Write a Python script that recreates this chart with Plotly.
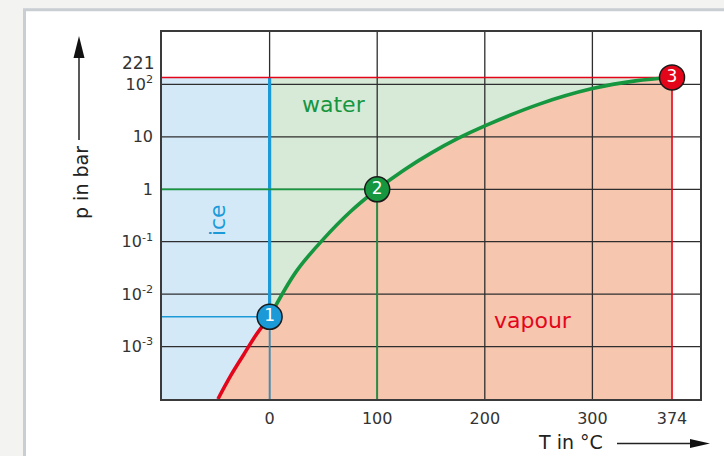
import plotly.graph_objects as go

# ---- data ----
T_sub = [-48, -36, -24, -12, 0]                          # sublimation curve (°C)
p_sub = [1e-4, 2.82e-4, 7.08e-4, 1.74e-3, 0.0037]        # bar
T_vap = [0, 25, 50, 75, 100, 125, 150, 175, 200, 250, 300, 340, 374]   # vapour-pressure curve
p_vap = [0.0037, 0.0275, 0.112, 0.372, 1, 2.34, 4.9, 9.33, 16.2, 41.7, 83.2, 117, 136]
pt_T = [0, 100, 374]            # marked points 1, 2, 3
pt_p = [0.0037, 1, 136]
pt_lbl = ["1", "2", "3"]
x_ticks = [0, 100, 200, 300, 374]
x_ticktext = ["0", "100", "200", "300", "374"]
y_ticks = [1e-3, 1e-2, 1e-1, 1, 10, 100]
y_ticktext = ["10<sup>-3</sup>", "10<sup>-2</sup>", "10<sup>-1</sup>", "1", "10", "10<sup>2</sup>"]
crit_label = "221"
x_grid = [0, 100, 200, 300]
y_grid = [1e-3, 1e-2, 1e-1, 1, 10, 100]
x_range = [-100, 400]
y_range_log = [-4, 3]

# ---- styles ----
C_BLUE, C_GREEN, C_RED = "#1c9ad8", "#15963f", "#e3061b"
F_ICE, F_WATER, F_VAP = "#d4e9f8", "#d7e9d7", "#f7c6af"
GRID = "#2e2e2e"
FONT = "DejaVu Sans"

p_min, p_max = 10 ** y_range_log[0], 10 ** y_range_log[1]
pT, pP = pt_T, pt_p
xmin, xmax = x_range

fig = go.Figure()

def poly(xs, ys, color):
    fig.add_trace(go.Scatter(x=xs, y=ys, fill="toself", fillcolor=color, mode="lines",
                             line=dict(width=0), hoverinfo="skip", showlegend=False))

# vapour region
poly([T_sub[0]] + T_sub + T_vap[1:] + [pT[2], T_sub[0]],
     [p_min] + p_sub + p_vap[1:] + [p_min, p_min], F_VAP)
# water region
poly([pT[0], pT[0]] + [pT[2]] + T_vap[::-1],
     [pP[0], pP[2]] + [pP[2]] + p_vap[::-1], F_WATER)
# ice region
poly([xmin, xmin, pT[0], pT[0]] + T_sub[::-1][1:] + [xmin],
     [p_min, pP[2], pP[2], pP[0]] + p_sub[::-1][1:] + [p_min], F_ICE)

# grid lines drawn above the fills
gx, gy = [], []
for v in x_grid:
    gx += [v, v, None]; gy += [p_min, p_max, None]
for v in y_grid:
    gx += [xmin, xmax, None]; gy += [v, v, None]
fig.add_trace(go.Scatter(x=gx, y=gy, mode="lines", line=dict(color=GRID, width=1.3),
                         hoverinfo="skip", showlegend=False))

def seg(xs, ys, color, w):
    fig.add_trace(go.Scatter(x=xs, y=ys, mode="lines", line=dict(color=color, width=w),
                             hoverinfo="skip", showlegend=False))

seg([xmin, pT[0]], [pP[0], pP[0]], C_BLUE, 1.6)
seg([pT[0], pT[0]], [p_min, pP[0]], C_BLUE, 1.6)
seg([pT[0], pT[0]], [pP[0], pP[2]], C_BLUE, 3.2)
seg([xmin, pT[1]], [pP[1], pP[1]], C_GREEN, 1.8)
seg([pT[1], pT[1]], [p_min, pP[1]], C_GREEN, 1.8)
seg([xmin, pT[2]], [pP[2], pP[2]], C_RED, 1.6)
seg([pT[2], pT[2]], [p_min, pP[2]], C_RED, 1.6)

fig.add_trace(go.Scatter(x=T_sub, y=p_sub, mode="lines", line=dict(color=C_RED, width=3.6, shape="spline"),
                         hoverinfo="skip", showlegend=False))
fig.add_trace(go.Scatter(x=T_vap, y=p_vap, mode="lines", line=dict(color=C_GREEN, width=3.6, shape="spline"),
                         hoverinfo="skip", showlegend=False))

fig.add_trace(go.Scatter(x=pt_T, y=pt_p, mode="markers+text", text=pt_lbl,
                         textposition="middle center",
                         textfont=dict(family=FONT, size=17, color="white"),
                         marker=dict(size=25, color=[C_BLUE, C_GREEN, C_RED],
                                     line=dict(color="#1a1a1a", width=1.5)),
                         hoverinfo="skip", showlegend=False, cliponaxis=False))

# region labels
fig.add_annotation(x=60, y=1.62, text="water", showarrow=False,
                   font=dict(family=FONT, size=22, color=C_GREEN))
fig.add_annotation(x=-49, y=-0.59, text="ice", showarrow=False, textangle=-90,
                   font=dict(family=FONT, size=22, color=C_BLUE))
fig.add_annotation(x=245, y=-2.5, text="vapour", showarrow=False,
                   font=dict(family=FONT, size=22, color=C_RED))

# pixel -> paper helpers (plot area 162..700 x 32..399)
L, R, T, B = 162, 700, 32, 399
def xp(px): return (px - L) / (R - L)
def yp(py): return (B - py) / (B - T)

# label of the critical pressure, just above the 10^2 tick
fig.add_annotation(xref="paper", yref="paper", x=xp(156), y=yp(63), xanchor="right", yanchor="middle",
                   text=crit_label, showarrow=False, font=dict(family=FONT, size=17, color="#333"))

# frame around panel
fig.add_shape(type="rect", xref="paper", yref="paper", x0=xp(24.5), x1=xp(760), y0=yp(9.8), y1=yp(520),
              fillcolor="white", line=dict(color="#c9ced3", width=3), layer="below")

# axis titles with arrows
fig.add_annotation(xref="paper", yref="paper", x=xp(81), y=yp(183), xanchor="center", yanchor="middle",
                   text="p in bar", showarrow=False, textangle=-90,
                   font=dict(family=FONT, size=19, color="#222"))
fig.add_shape(type="line", xref="paper", yref="paper", x0=xp(79), x1=xp(79), y0=yp(140), y1=yp(55),
              line=dict(color="#222", width=1.5))
fig.add_shape(type="path", xref="paper", yref="paper",
              path=f"M {xp(79)} {yp(36)} L {xp(73.5)} {yp(58)} L {xp(84.5)} {yp(58)} Z",
              fillcolor="#111", line=dict(width=0))
fig.add_annotation(xref="paper", yref="paper", x=xp(570), y=yp(442), xanchor="center", yanchor="middle",
                   text="T in °C", showarrow=False, font=dict(family=FONT, size=19, color="#222"))
fig.add_shape(type="line", xref="paper", yref="paper", x0=xp(617), x1=xp(692), y0=yp(443.5), y1=yp(443.5),
              line=dict(color="#222", width=1.5))
fig.add_shape(type="path", xref="paper", yref="paper",
              path=f"M {xp(710)} {yp(443.5)} L {xp(690)} {yp(439)} L {xp(690)} {yp(448)} Z",
              fillcolor="#111", line=dict(width=0))

fig.update_xaxes(range=x_range, tickvals=x_ticks, ticktext=x_ticktext, showgrid=False, zeroline=False,
                 showline=True, mirror=True, linecolor="#3a3a3a", linewidth=1.5,
                 tickfont=dict(family=FONT, size=16, color="#333"), ticks="", ticklabelstandoff=4)
fig.update_yaxes(type="log", range=y_range_log, tickvals=y_ticks, ticktext=y_ticktext, showgrid=False,
                 zeroline=False, showline=True, mirror=True, linecolor="#3a3a3a", linewidth=1.5,
                 tickfont=dict(family=FONT, size=16, color="#333"), ticks="", ticklabelstandoff=4)

fig.update_layout(width=724, height=456, margin=dict(l=L, r=724 - R, t=T, b=456 - B),
                  paper_bgcolor="#f3f3f1", plot_bgcolor="white", showlegend=False)

fig.write_html("out.html", config={"displayModeBar": False},
               post_script="document.body.style.margin='0';")
